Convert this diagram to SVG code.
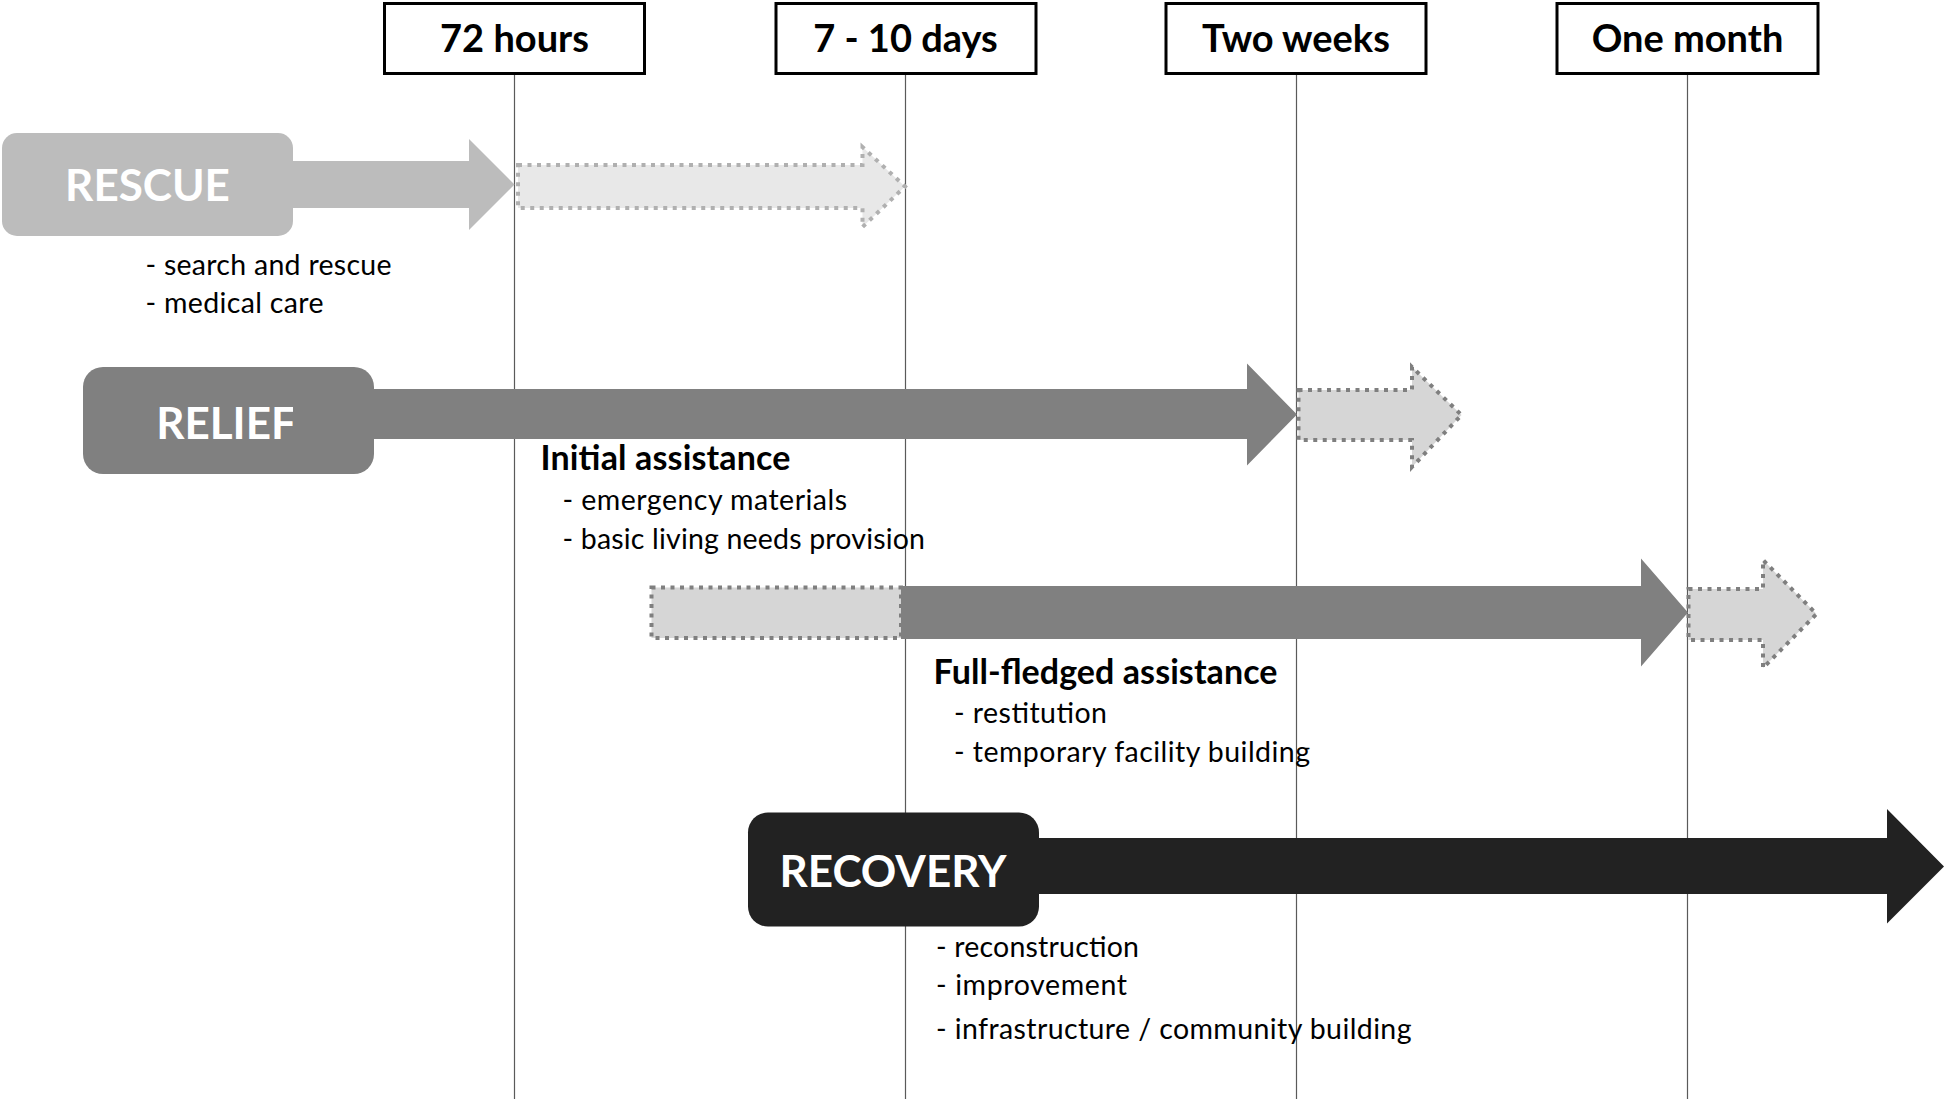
<svg xmlns="http://www.w3.org/2000/svg" width="1946" height="1099" viewBox="0 0 1946 1099">
<style>
.tbox{fill:#fff;stroke:#000;stroke-width:3}
.tlab{font-family:Lato,"Liberation Sans",sans-serif;font-weight:700;font-size:38px;fill:#000;text-anchor:middle}
.guide{stroke:#5a5a5a;stroke-width:1.2;fill:none}
.phase{font-family:Lato,"Liberation Sans",sans-serif;font-weight:700;font-size:44px;fill:#fff}
.head{font-family:Lato,"Liberation Sans",sans-serif;font-weight:700;font-size:34px;fill:#000}
.item{font-family:Lato,"Liberation Sans",sans-serif;font-size:28.5px;fill:#000}
.dot1{fill:#e8e8e8;stroke:#b0b0b0;stroke-width:4;stroke-dasharray:4 5.5}
.dot2{fill:#d6d6d6;stroke:#7f7f7f;stroke-width:4;stroke-dasharray:4 5.5}
</style>
<defs>
<clipPath id="reliefClip"><rect x="83" y="367" width="210" height="107"/></clipPath>
</defs>
<rect width="1946" height="1099" fill="#fff"/>
<g id="connectors">
<line class="guide" x1="514.5" y1="74" x2="514.5" y2="1099"/>
<line class="guide" x1="905.5" y1="74" x2="905.5" y2="1099"/>
<line class="guide" x1="1296.5" y1="74" x2="1296.5" y2="1099"/>
<line class="guide" x1="1687.5" y1="74" x2="1687.5" y2="1099"/>
</g>
<g id="t72h"><rect class="tbox" x="384.5" y="3.5" width="260" height="70"/><text class="tlab" x="514.5" y="51.5">72 hours</text></g>
<g id="t710d"><rect class="tbox" x="776" y="3.5" width="260" height="70"/><text class="tlab" x="905.5" y="51.5">7 - 10 days</text></g>
<g id="t2w"><rect class="tbox" x="1166" y="3.5" width="260" height="70"/><text class="tlab" x="1296" y="51.5">Two weeks</text></g>
<g id="t1m"><rect class="tbox" x="1557" y="3.5" width="261" height="70"/><text class="tlab" x="1687.5" y="51.5">One month</text></g>

<g id="rescue">
<path d="M 280 161 H 469 V 139 L 514.5 184.5 L 469 230 V 208 H 280 Z" fill="#bcbcbc"/>
<rect x="2" y="133" width="291" height="103" rx="15" fill="#bcbcbc"/>
<text class="phase" x="147.5" y="201" text-anchor="middle">RESCUE</text>
<text class="item" x="145.5" y="275" textLength="246" lengthAdjust="spacing">- search and rescue</text>
<text class="item" x="145.5" y="313" textLength="178" lengthAdjust="spacing">- medical care</text>
</g>
<g id="rescue-ext">
<path class="dot1" d="M 518 165 H 862.5 V 147 L 905 186.5 L 862.5 227 V 208 H 518 Z"/>
</g>

<g id="relief">
<path d="M 360 389 H 1247 V 363.5 L 1297 414.5 L 1247 465.5 V 439 H 360 Z" fill="#808080"/>
<rect x="83" y="367" width="291" height="107" rx="20" fill="#808080"/>
<text class="phase" x="226" y="438.5" text-anchor="middle" clip-path="url(#reliefClip)">RELIEF</text>
</g>
<g id="relief-ext">
<path class="dot2" d="M 1298.5 390 H 1412 V 367 L 1461.5 415 L 1412 467 V 440 H 1298.5 Z"/>
</g>
<g id="initial">
<text class="head" x="540.5" y="470" textLength="250" lengthAdjust="spacing">Initial assistance</text>
<text class="item" x="562.5" y="510" textLength="284.5" lengthAdjust="spacing">- emergency materials</text>
<text class="item" x="562.5" y="548.5" textLength="362.5" lengthAdjust="spacing">- basic living needs provision</text>
</g>

<g id="fullfledged-pre">
<rect class="dot2" x="651.5" y="587.5" width="249.5" height="50.5"/>
</g>
<g id="fullfledged">
<path d="M 901 586 H 1641 V 558.5 L 1688 612.5 L 1641 666.5 V 639 H 901 Z" fill="#808080"/>
<text class="head" x="933.5" y="683.5" textLength="344" lengthAdjust="spacing">Full-fledged assistance</text>
<text class="item" x="954" y="723" textLength="153" lengthAdjust="spacing">- restitution</text>
<text class="item" x="954" y="761.5" textLength="356" lengthAdjust="spacing">- temporary facility building</text>
</g>
<g id="fullfledged-ext">
<path class="dot2" d="M 1688.5 589 H 1763 V 560 L 1816.5 614 L 1763 668 V 640 H 1688.5 Z"/>
</g>

<g id="recovery">
<path d="M 1020 838 H 1887 V 809 L 1944 866.5 L 1887 923.5 V 894 H 1020 Z" fill="#222"/>
<rect x="748" y="812.5" width="291" height="114" rx="20" fill="#222"/>
<text class="phase" x="893" y="886.5" text-anchor="middle">RECOVERY</text>
<text class="item" x="936" y="956.5" textLength="203" lengthAdjust="spacing">- reconstruction</text>
<text class="item" x="936" y="995" textLength="191" lengthAdjust="spacing">- improvement</text>
<text class="item" x="936" y="1038.5" textLength="475.5" lengthAdjust="spacing">- infrastructure / community building</text>
</g>
</svg>
